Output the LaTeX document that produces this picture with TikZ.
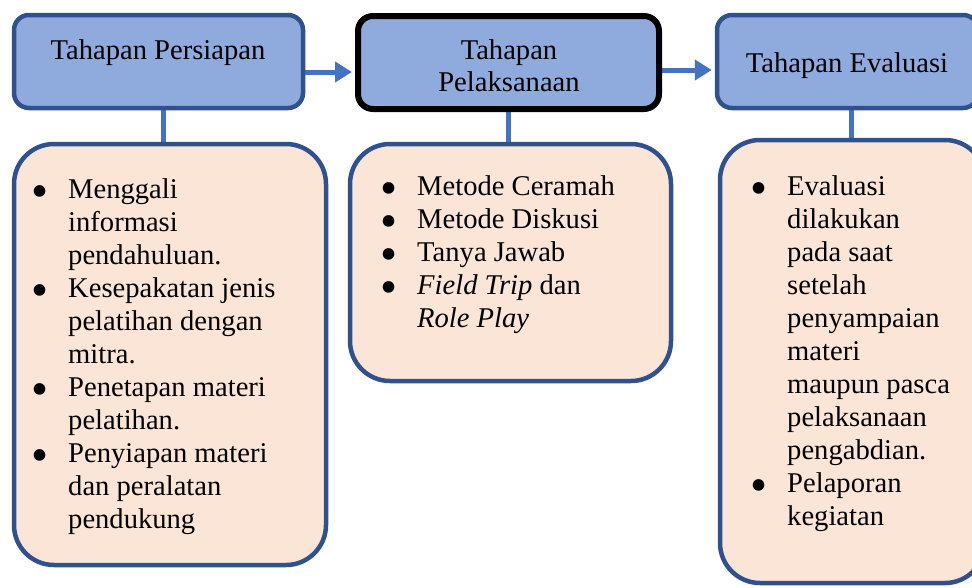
\documentclass[tikz,border=0pt]{standalone}
\usepackage{fontspec}
\setmainfont{Liberation Serif}
\usetikzlibrary{arrows.meta,backgrounds}
\definecolor{hdrfill}{HTML}{8FAADC}
\definecolor{hdrline}{HTML}{2F528F}
\definecolor{peach}{HTML}{FBE5D6}
\definecolor{conn}{HTML}{4472C4}
\newcommand\bul{\hbox to 56pt{\hss\smash{\raisebox{-9.5pt}{\scalebox{1.7}{\textbullet}}}\hss}}
\tikzset{
  hdrbox/.style={draw=hdrline, fill=hdrfill, line width=4.5pt, rounded corners=15pt, inner sep=0pt},
  midbox/.style={draw=black, fill=hdrfill, line width=6pt, rounded corners=15pt, inner sep=0pt},
  listbox/.style={draw=hdrline, fill=peach, line width=4.5pt, rounded corners=40pt, inner sep=0pt},
  txt/.style={inner sep=0pt, font=\fontsize{28.6}{32}\selectfont},
  listtxt/.style={inner sep=0pt, anchor=north west, font=\fontsize{28.6}{33}\selectfont},
  connline/.style={draw=conn, line width=5pt},
  connarrow/.style={draw=conn, line width=5pt, -{Triangle[length=17pt,width=20pt]}, shorten >=3pt}
}
\begin{document}
\begin{tikzpicture}[x=1pt,y=-1pt]
\path[use as bounding box] (0,0) rectangle (972,587);
% header boxes
\node[hdrbox, minimum width=289pt, minimum height=93pt] (b1) at (158.5,61.5) {};
\node[midbox, minimum width=301pt, minimum height=93pt] (b2) at (508.5,62.5) {};
\node[hdrbox, minimum width=261pt, minimum height=93pt] (b3) at (847.5,61.5) {};
% list boxes
\node[listbox, minimum width=312pt, minimum height=421pt] (b4) at (170,354.5) {};
\node[listbox, minimum width=321pt, minimum height=237pt] (b5) at (510.5,262.5) {};
\node[listbox, minimum width=265pt, minimum height=443pt] (b6) at (852.5,361.5) {};
% titles
\node[txt, anchor=base] (t1) at (158,59) {Tahapan Persiapan};
\node[txt, anchor=base] (t2a) at (509,59) {Tahapan};
\node[txt, anchor=base] (t2b) at (509,91) {Pelaksanaan};
\node[txt, anchor=base] (t3) at (847,72) {Tahapan Evaluasi};
% lists
\node[listtxt] (l4) at (12,175) {\begin{tabular}{@{}l@{}l@{}}
\bul & Menggali\\
     & informasi\\
     & pendahuluan.\\
\bul & Kesepakatan jenis\\
     & pelatihan dengan\\
     & mitra.\\
\bul & Penetapan materi\\
     & pelatihan.\\
\bul & Penyiapan materi\\
     & dan peralatan\\
     & pendukung
\end{tabular}};
\node[listtxt] (l5) at (361,172) {\begin{tabular}{@{}l@{}l@{}}
\bul & Metode Ceramah\\
\bul & Metode Diskusi\\
\bul & Tanya Jawab\\
\bul & \textit{Field Trip} dan\\
     & \textit{Role Play}
\end{tabular}};
\node[listtxt] (l6) at (731,172) {\begin{tabular}{@{}l@{}l@{}}
\bul & Evaluasi\\
     & dilakukan\\
     & pada saat\\
     & setelah\\
     & penyampaian\\
     & materi\\
     & maupun pasca\\
     & pelaksanaan\\
     & pengabdian.\\
\bul & Pelaporan\\
     & kegiatan
\end{tabular}};
% connectors
\coordinate (v1) at (163,0);
\coordinate (v2) at (508,0);
\coordinate (v3) at (851,0);
\coordinate (h1) at (0,72);
\coordinate (h2) at (0,70);
\begin{scope}[on background layer]
\draw[connline] (b1.south -| v1) -- (b4.north -| v1);
\draw[connline] (b2.south -| v2) -- (b5.north -| v2);
\draw[connline] (b3.south -| v3) -- (b6.north -| v3);
\draw[connarrow] (b1.east |- h1) -- (b2.west |- h1);
\draw[connarrow] (b2.east |- h2) -- (b3.west |- h2);
\end{scope}
\end{tikzpicture}
\end{document}
